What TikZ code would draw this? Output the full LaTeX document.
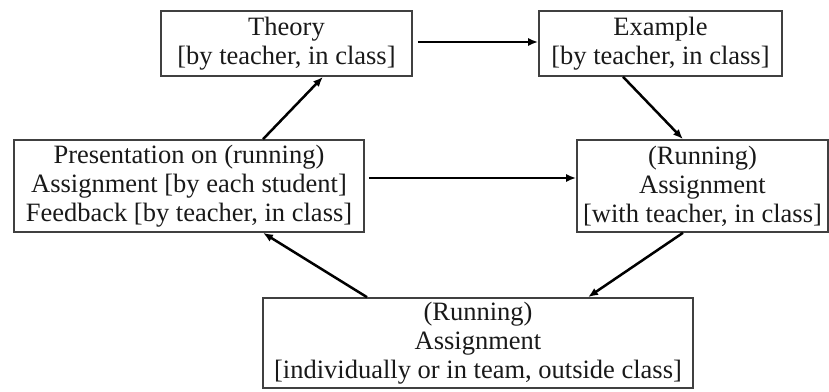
\documentclass[tikz,border=0pt]{standalone}
\usepackage{fontspec}
\setmainfont{Liberation Serif}
\usetikzlibrary{arrows.meta}
\begin{document}
\begin{tikzpicture}[x=1pt,y=1pt,
  box/.style={draw=black!75, line width=1.6pt, rectangle, inner sep=0pt, align=center,
    font=\fontsize{26.5}{29}\selectfont, text=black!90},
  arr/.style={line width=2.5pt, -{Latex[length=10pt,width=8pt]}}]
\useasboundingbox (0,0) rectangle (829,391);
\node[box, minimum width=251pt, minimum height=65pt] (T) at (286.5,347.5) {Theory\\{}[by teacher, in class]};
\node[box, minimum width=243pt, minimum height=65pt] (E) at (660.5,347.5) {Example\\{}[by teacher, in class]};
\node[box, minimum width=350pt, minimum height=92pt] (P) at (189,205) {Presentation on (running)\\Assignment [by each student]\\Feedback [by teacher, in class]};
\node[box, minimum width=251pt, minimum height=92pt] (R) at (702.5,205) {(Running)\\Assignment\\{}[with teacher, in class]};
\node[box, minimum width=430pt, minimum height=90pt] (B) at (478,48) {(Running)\\Assignment\\{}[individually or in team, outside class]};
\draw[arr, shorten <=5pt] ([yshift=1.5pt]T.east) -- ([yshift=1.5pt]E.west);
\draw[arr] ([xshift=74pt]P.north) -- ([xshift=36.5pt]T.south);
\draw[arr] ([xshift=-37.5pt]E.south) -- ([xshift=-19.5pt]R.north);
\draw[arr, shorten <=4pt] ([yshift=8pt]P.east) -- ([yshift=8pt]R.west);
\draw[arr] ([xshift=-19.5pt]R.south) -- ([xshift=110pt]B.north);
\draw[arr] ([xshift=-111pt]B.north) -- ([xshift=74pt]P.south);
\end{tikzpicture}
\end{document}
